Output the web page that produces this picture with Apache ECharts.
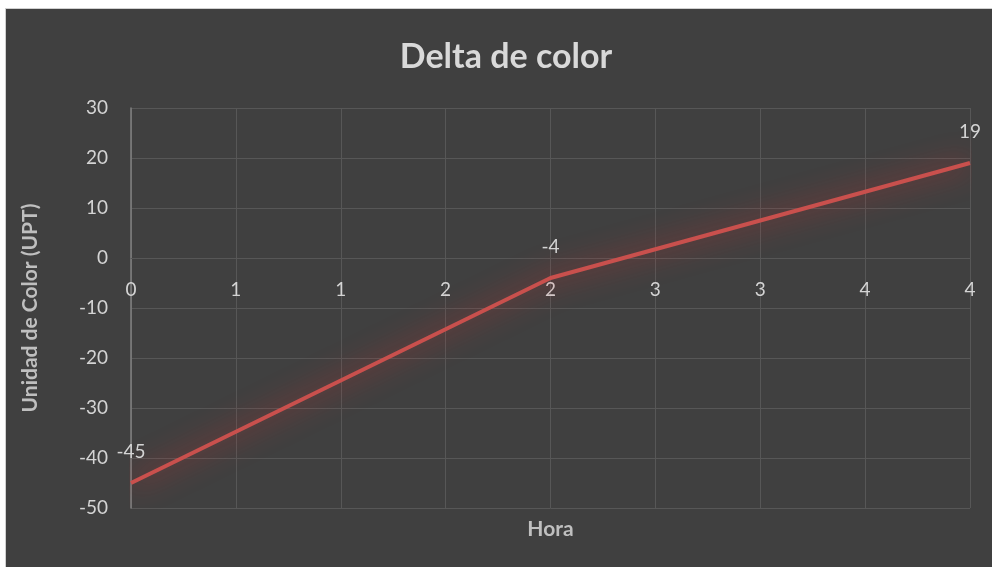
<!DOCTYPE html>
<html>
<head>
<meta charset="utf-8">
<script src="https://cdn.jsdelivr.net/npm/echarts@6/dist/echarts.min.js"></script>
<style>
  html, body { margin: 0; padding: 0; background: #ffffff; }
  #frame {
    position: absolute; left: 5px; top: 8px; right: 0; bottom: 0;
    background: #404040;
    border-top: 1px solid #d0d0d0; border-left: 1px solid #d0d0d0;
  }
  #chart { position: absolute; left: 0; top: 0; width: 992px; height: 567px; }
</style>
</head>
<body>
<div id="frame"></div>
<div id="chart"></div>
<script>
// Measured colour change over time
const hours = [0, 2, 4];
const deltas = [-45, -4, 19];
// Hour ticks every half hour, shown rounded to whole numbers
const xTickLabels = ['0', '1', '1', '2', '2', '3', '3', '4', '4'];
const titleText = 'Delta de color';
const xTitle = 'Hora';
const yTitle = 'Unidad de Color (UPT)';

const FONT = 'Lato, "Open Sans", sans-serif';
const gridColor = '#575757';
const textColor = '#d4d4d4';

const chart = echarts.init(document.getElementById('chart'), null, { renderer: 'canvas' });
chart.setOption({
  backgroundColor: 'transparent',
  title: {
    text: titleText,
    left: 501,
    top: 35,
    textAlign: 'center',
    textStyle: { color: '#d9d9d9', fontFamily: FONT, fontWeight: 'bold', fontSize: 34 }
  },
  grid: { left: 131, right: 22, top: 108, bottom: 59, containLabel: false, outerBoundsMode: 'none' },
  xAxis: {
    type: 'value',
    min: 0, max: 4, interval: 0.5,
    position: 'bottom',
    // the horizontal axis runs along the zero line (250px above the plot bottom)
    offset: -250,
    name: xTitle,
    nameLocation: 'middle',
    nameGap: 261,
    nameMoveOverlap: false,
    nameTextStyle: { color: '#bfbfbf', fontFamily: FONT, fontWeight: 'bold', fontSize: 21 },
    axisLine: { show: true, onZero: false, lineStyle: { color: gridColor, width: 1 } },
    axisTick: { show: false },
    axisLabel: {
      color: textColor, fontFamily: FONT, fontSize: 19, margin: 22,
      formatter: function (v) { return xTickLabels[Math.round(v / 0.5)]; }
    },
    splitLine: { show: true, lineStyle: { color: gridColor, width: 1 } }
  },
  yAxis: {
    type: 'value',
    min: -50, max: 30, interval: 10,
    name: yTitle,
    nameLocation: 'middle',
    nameRotate: 90,
    nameGap: 90,
    nameMoveOverlap: false,
    nameTextStyle: { color: '#bfbfbf', fontFamily: FONT, fontWeight: 'bold', fontSize: 21 },
    axisLine: { show: true, onZero: false, lineStyle: { color: '#808080', width: 1.5 } },
    axisTick: { show: false },
    axisLabel: { color: textColor, fontFamily: FONT, fontSize: 19, margin: 23 },
    splitLine: { show: true, lineStyle: { color: gridColor, width: 1 } }
  },
  series: [{
    type: 'line',
    data: hours.map((h, i) => [h, deltas[i]]),
    symbol: 'circle',
    symbolSize: 1,
    showSymbol: true,
    itemStyle: { color: 'rgba(0,0,0,0)' },
    lineStyle: {
      color: '#c9504d', width: 4,
      shadowColor: 'rgba(215, 45, 45, 1)', shadowBlur: 28
    },
    label: {
      show: true, position: 'top', distance: 21,
      color: textColor, fontFamily: FONT, fontSize: 19,
      formatter: p => String(p.value[1])
    },
    labelLayout: { hideOverlap: false },
    animation: false
  }],
  animation: false
});
</script>
</body>
</html>
